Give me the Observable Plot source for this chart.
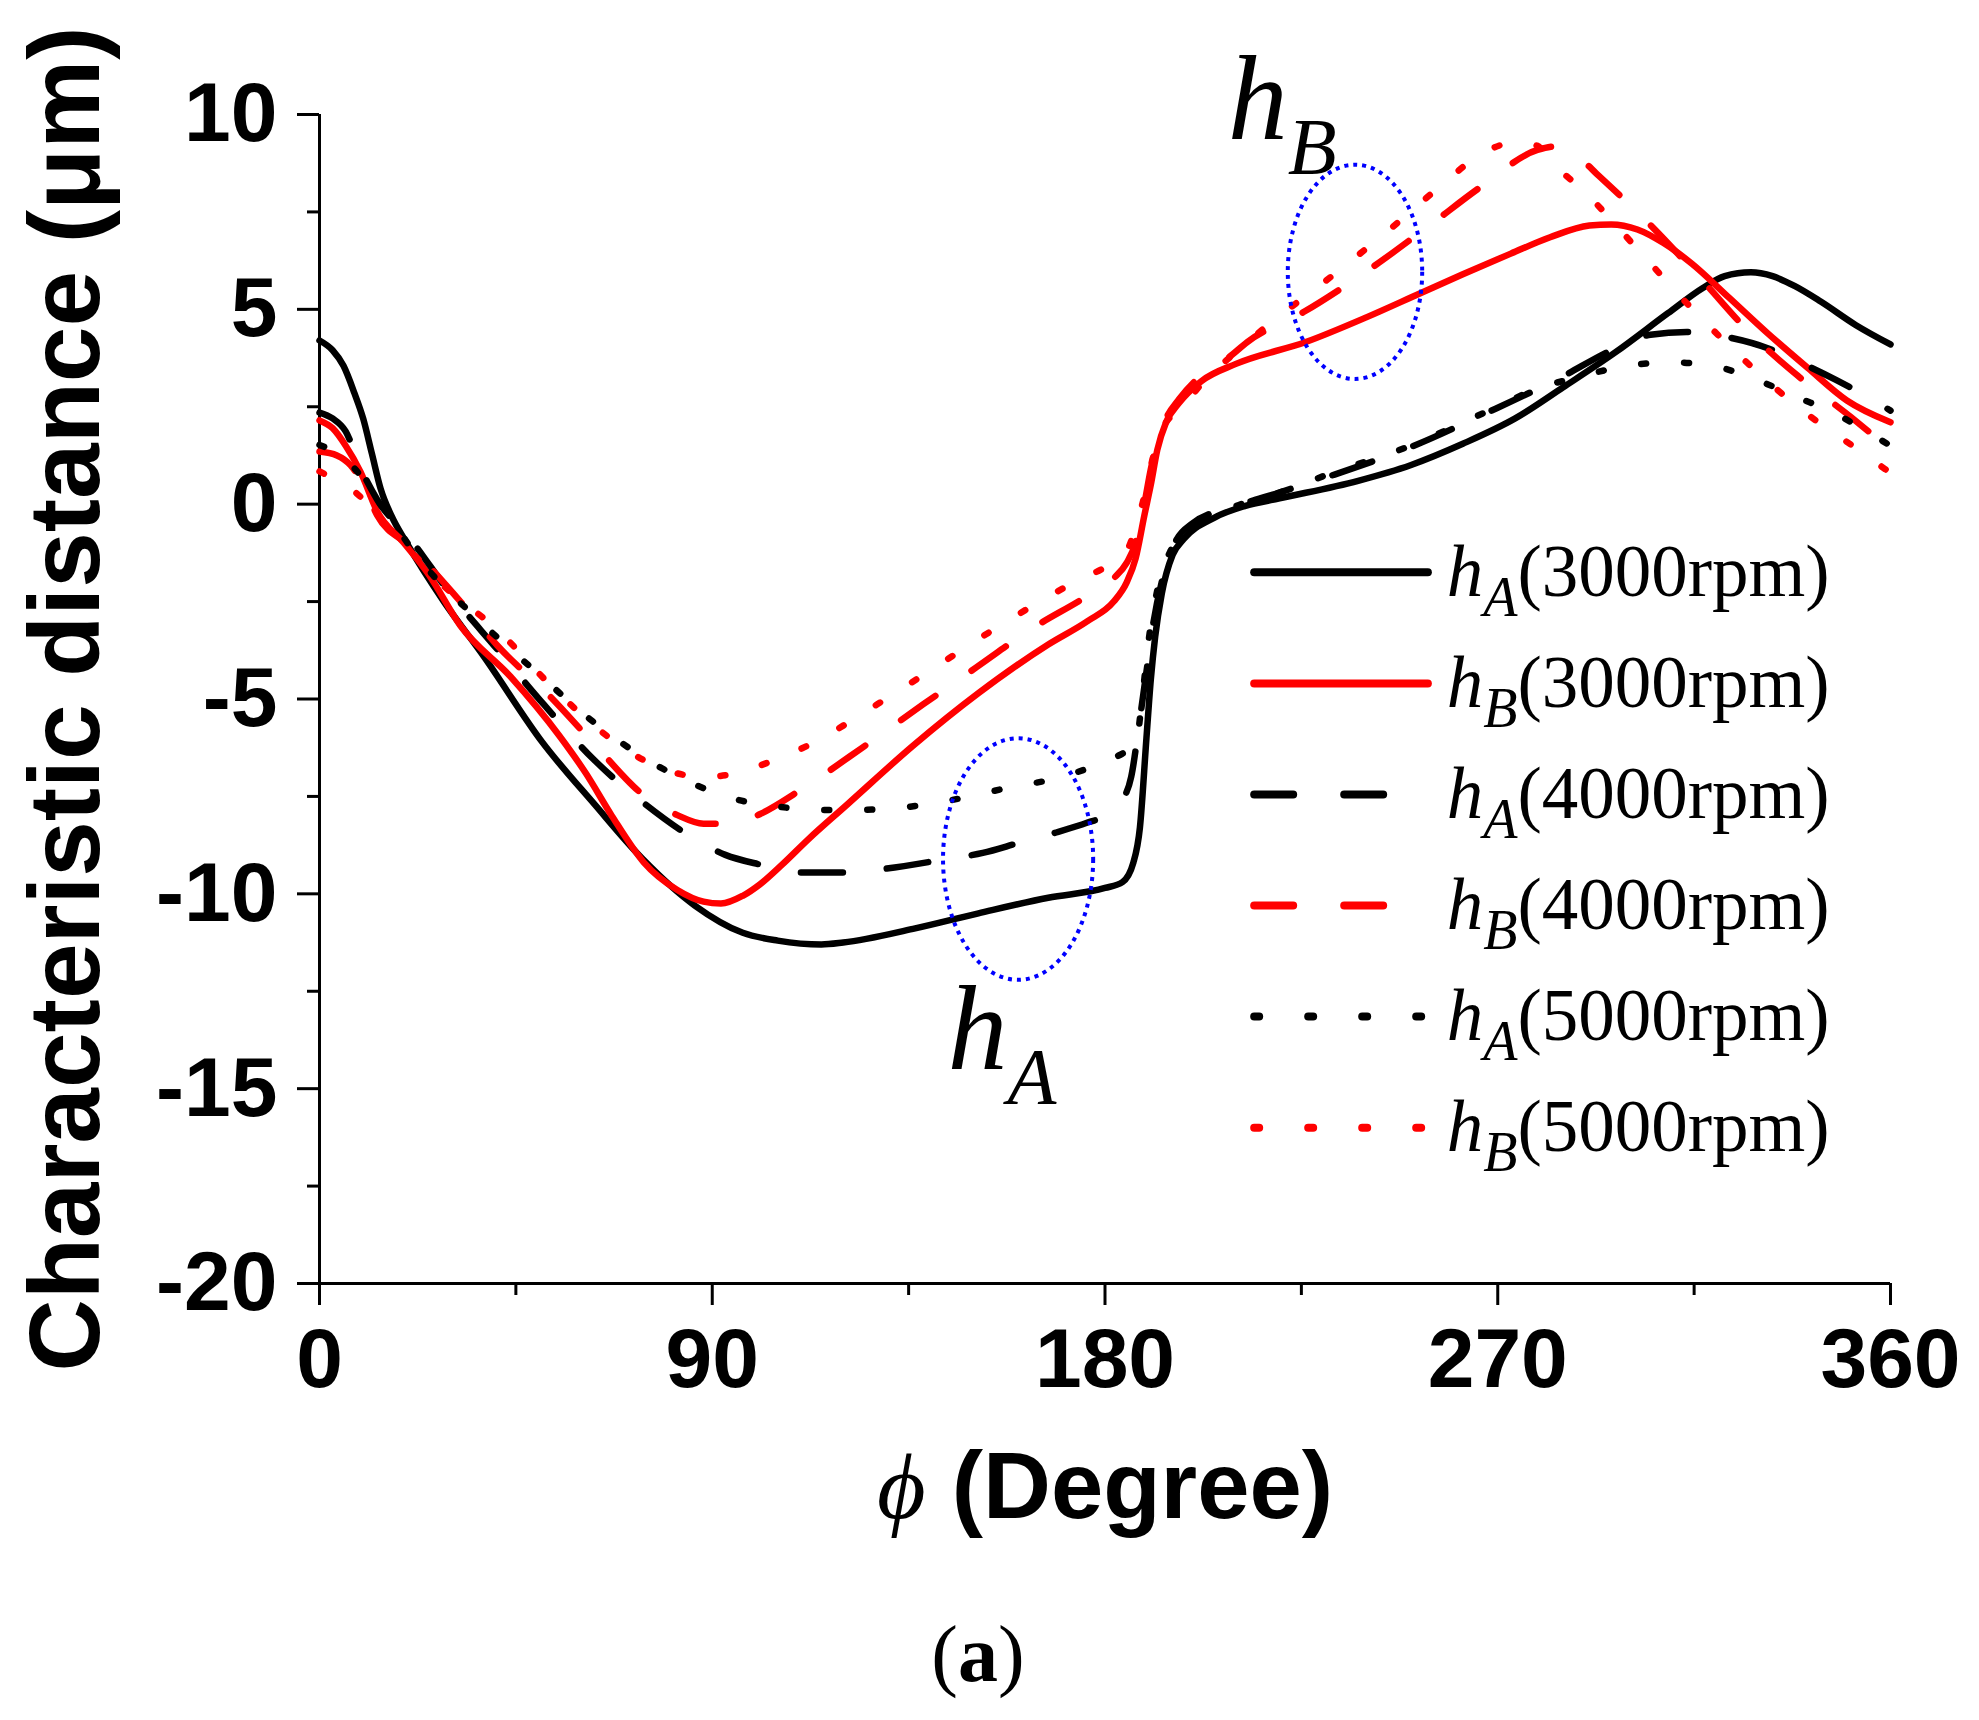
<!DOCTYPE html>
<html>
<head>
<meta charset="utf-8">
<script src="https://cdn.jsdelivr.net/npm/d3@7"></script>
<script src="https://cdn.jsdelivr.net/npm/@observablehq/plot@0.6"></script>
<style>
  body { margin: 0; background: #fff; }
</style>
</head>
<body>
<div id="chart"></div>
<script>
// [phi (deg), h (um)]
const hA3000 = [[0,4.2],[3,3.95],[5.5,3.55],[8,2.85],[10,2.2],[12,1.3],[14,0.4],[16.5,-0.3],[20,-1.0],
  [28.5,-2.5],[37.6,-3.9],[51,-6.1],[63,-7.7],[74,-9.1],[86,-10.3],[97,-11.0],[105,-11.2],[115,-11.3],
  [120,-11.25],[136,-10.9],[151,-10.5],[167,-10.1],[180,-9.85],[184,-9.7],[186.5,-9.2],[188,-8.3],
  [189.5,-6.0],[190.5,-4.5],[191.5,-3.4],[193,-2.3],[195.5,-1.3],[198,-0.9],[205,-0.35],[212,-0.05],
  [220,0.15],[238,0.6],[250,1.0],[262,1.55],[274,2.2],[285,3.0],[297,3.9],[309,4.9],[317,5.55],
  [322,5.85],[328,5.95],[333,5.85],[338,5.6],[344,5.2],[352,4.6],[360,4.1]];
const hB3000 = [[0,2.15],[3,1.95],[6,1.5],[9.4,0.83],[13.2,-0.18],[19.3,-0.99],[25,-1.8],[32.3,-3.12],
  [43.8,-4.43],[55,-5.95],[61,-6.9],[67,-8.0],[74.3,-9.19],[82,-9.9],[88,-10.2],[92,-10.25],[97,-10.05],
  [101,-9.75],[106,-9.25],[112,-8.6],[121,-7.7],[136,-6.2],[151,-4.85],[167,-3.6],[176,-3.0],
  [182,-2.5],[185,-2.0],[187,-1.4],[189,-0.3],[190.5,0.5],[192,1.4],[194,2.1],[197,2.6],[202,3.15],
  [210,3.6],[226,4.16],[240,4.8],[252,5.4],[262,5.9],[273,6.43],[282,6.85],[291,7.15],[296,7.18],
  [302,7.05],[308,6.7],[314.5,6.17],[323,5.3],[332,4.37],[341,3.5],[350,2.66],[360,2.1]];
const hA4000 = [[0,2.35],[3,2.2],[6,1.87],[9.4,0.93],[13.2,0.12],[20.8,-0.89],[30,-2.3],[40.7,-3.72],
  [51.4,-5.14],[62.9,-6.56],[74.3,-7.67],[85.8,-8.58],[93,-9.0],[101,-9.25],[110,-9.45],[120,-9.45],
  [130,-9.35],[143,-9.12],[152,-8.95],[160,-8.7],[168,-8.45],[176,-8.17],[181,-7.95],[184,-7.6],
  [186,-7.0],[188,-5.5],[189.5,-4.3],[191,-3.1],[193,-2.0],[196,-1.0],[200,-0.5],[210,-0.05],[220,0.3],
  [232.6,0.76],[250.8,1.5],[267.4,2.34],[283.9,3.22],[296.8,3.99],[305,4.35],[313.3,4.42],[322,4.3],
  [332.2,3.99],[340,3.6],[347.5,3.19],[354,2.8],[360,2.4]];
const hB4000 = [[0,1.35],[4,1.25],[7.1,1.0],[10,0.5],[13.2,-0.28],[20.8,-1.09],[32.3,-2.5],[40.7,-3.62],
  [52.9,-4.94],[62.9,-6.15],[74.3,-7.47],[82,-7.98],[88,-8.2],[94.9,-8.2],[101,-7.95],[110,-7.35],
  [124.5,-6.24],[138.3,-5.14],[150.5,-4.19],[163.3,-3.19],[176.3,-2.33],[182,-1.9],[185,-1.5],
  [187,-1.0],[189,0.0],[190.5,0.9],[192,1.6],[194,2.2],[197,2.7],[202,3.3],[208.4,3.77],[212.6,4.16],
  [225.5,4.93],[240,5.98],[254.1,7.13],[266.2,8.15],[279.1,9.09],[283.2,9.18],[288,8.95],[293.3,8.41],
  [305.1,7.15],[316.9,5.74],[328,4.37],[338.7,3.3],[351,2.23],[360,1.4]];
const hA5000 = [[0,1.52],[4,1.3],[7.9,0.93],[13.2,0.12],[23.9,-1.55],[36.9,-3.02],[49.9,-4.33],
  [62.9,-5.6],[77.4,-6.71],[86.5,-7.22],[95.3,-7.57],[105.6,-7.77],[117.6,-7.85],[129,-7.83],
  [137.5,-7.73],[148.2,-7.52],[158.5,-7.26],[168,-7.06],[178,-6.7],[184,-6.4],[187,-6.2],[188.5,-5.0],
  [190,-3.5],[192,-2.2],[195,-1.2],[200,-0.6],[210,-0.05],[220,0.3],[232,0.8],[250,1.5],[267,2.35],
  [280,3.0],[288.5,3.26],[298,3.52],[309.8,3.64],[320.4,3.52],[329.8,3.17],[338.7,2.74],[347.5,2.32],
  [354,1.9],[360,1.5]];
const hB5000 = [[0,0.84],[4,0.6],[8.6,0.27],[13.9,-0.38],[20.8,-1.19],[28.5,-2.1],[40.7,-3.22],
  [52.9,-4.64],[65.9,-5.95],[74,-6.55],[82,-6.91],[88,-7.0],[93.4,-6.95],[103.3,-6.61],[111.8,-6.2],
  [127.9,-5.13],[141.7,-4.14],[157,-3.04],[173,-2.0],[181.4,-1.52],[185,-1.2],[187,-0.6],[189,0.2],
  [191,1.2],[193,1.9],[197.8,2.5],[203,3.2],[210,3.9],[216.7,4.54],[230.7,5.74],[244.9,7.02],
  [257.9,8.26],[265,8.9],[274.4,9.29],[279,9.2],[282.7,8.73],[289.2,8.09],[301.6,6.6],[312.7,5.23],
  [325.7,3.78],[339.3,2.45],[352.8,1.38],[360,0.8]];

const seriesData = [hA3000, hB3000, hA4000, hB4000, hA5000, hB5000];
const seriesLabels = ["h|A|(3000rpm)", "h|B|(3000rpm)", "h|A|(4000rpm)", "h|B|(4000rpm)", "h|A|(5000rpm)", "h|B|(5000rpm)"];
const seriesStroke = ["#000", "#ff0000", "#000", "#ff0000", "#000", "#ff0000"];
const seriesDash = [undefined, undefined, "42,44", "42,44", "5,38", "5,38"];
const legendDash = [undefined, undefined, "39,51", "39,51", "5,49", "5,49"];

const xTicks = [0, 90, 180, 270, 360];
const xMinorTicks = [45, 135, 225, 315];
const yTicks = [-20, -15, -10, -5, 0, 5, 10];
const yMinorTicks = [-17.5, -12.5, -7.5, -2.5, 2.5, 7.5];

// callouts: label, position of the "h", and the dotted ellipses around the curves
const notes = [{label: "h|B", phi: 208.1, h: 9.38}, {label: "h|A", phi: 143.9, h: -14.5}];
const ellipses = [{phi: 237.4, h: 5.95, rphi: 15.4, rh: 2.75}, {phi: 160.2, h: -9.12, rphi: 17.2, rh: 3.1}];

const legendPos = {x1: 214.3, x2: 254.1, textX: 258.3, y0: -1.75, step: 2.85};
const legendRows = seriesLabels.map((label, i) => ({label, y: legendPos.y0 - i * legendPos.step}));

const sans = "'Liberation Sans', Arial, sans-serif";
const serif = "'Liberation Serif', 'Times New Roman', serif";

let chart = Plot.plot({
  width: 1979,
  height: 1720,
  marginTop: 114,
  marginRight: 89,
  marginBottom: 437,
  marginLeft: 319,
  style: {fontFamily: sans, fontSize: "84px", fontWeight: "bold", background: "white", overflow: "visible"},
  x: {domain: [0, 360]},
  y: {domain: [-20, 10]},
  marks: [
    Plot.axisX({ticks: xTicks, tickSize: 22, tickPadding: 22, strokeWidth: 3, tickFormat: d => String(d), label: null}),
    Plot.axisX({ticks: xMinorTicks, tickSize: 12, strokeWidth: 3, tickFormat: () => "", label: null}),
    Plot.axisY({ticks: yTicks, tickSize: 22, tickPadding: 20, strokeWidth: 3, tickFormat: d => String(d), label: null}),
    Plot.axisY({ticks: yMinorTicks, tickSize: 12, strokeWidth: 3, tickFormat: () => "", label: null}),
    Plot.ruleX([0], {y1: -20, y2: 10, strokeWidth: 3}),
    Plot.ruleY([-20], {x1: 0, x2: 360, strokeWidth: 3}),
    ...seriesData.map((pts, i) => Plot.line(pts, {
      x: d => d[0], y: d => d[1], stroke: seriesStroke[i], strokeWidth: 6.5,
      strokeDasharray: seriesDash[i], strokeLinecap: "round", curve: "monotone-x"
    })),
    ...legendRows.map((r, i) => Plot.ruleY([r.y], {
      x1: legendPos.x1, x2: legendPos.x2, stroke: seriesStroke[i], strokeWidth: 8,
      strokeDasharray: legendDash[i], strokeLinecap: "round"
    })),
    Plot.text(legendRows, {x: legendPos.textX, y: "y", text: "label", textAnchor: "start", lineAnchor: "middle",
      fontFamily: serif, fontWeight: "normal", fontSize: 73}),
    Plot.text(notes, {x: "phi", y: "h", text: "label", textAnchor: "start", lineAnchor: "bottom",
      fontFamily: serif, fontWeight: "normal", fontSize: 120}),
    Plot.text(["Characteristic distance (μm)"], {frameAnchor: "left", dx: -253, rotate: -90,
      textAnchor: "middle", lineAnchor: "middle", fontSize: 100, fontWeight: "bold"}),
    Plot.text(["ϕ|(Degree)"], {frameAnchor: "bottom", dy: 234, textAnchor: "middle", lineAnchor: "bottom",
      fontSize: 94, fontWeight: "bold"}),
    Plot.text(["(|a|)"], {frameAnchor: "bottom", dx: -127, dy: 397, textAnchor: "middle", lineAnchor: "bottom",
      fontFamily: serif, fontWeight: "normal", fontSize: 80})
  ]
})

// split the "|"-marked labels into styled pieces
d3.select(chart).selectAll("text").each(function() {
  const s = this.textContent
  if (!s.includes("|")) return
  const parts = s.split("|")
  const t = d3.select(this).text(null)
  if (s.startsWith("ϕ")) {
    t.append("tspan").attr("font-family", serif).attr("font-style", "italic").attr("font-weight", "normal").text(parts[0])
    t.append("tspan").text(" " + parts[1])
  } else if (s.startsWith("(")) {
    t.append("tspan").attr("font-weight", "normal").text(parts[0])
    t.append("tspan").attr("font-weight", "bold").text(parts[1])
    t.append("tspan").attr("font-weight", "normal").text(parts[2])
  } else {
    // italic h with a subscript letter
    const big = parts.length === 2
    const subSize = big ? 80 : 56, shift = big ? 35 : 20
    t.append("tspan").attr("font-style", "italic").text(parts[0])
    t.append("tspan").attr("font-style", "italic").attr("font-size", subSize).attr("dy", shift).text(parts[1])
    if (parts[2]) t.append("tspan").attr("dy", -shift).text(parts[2])
  }
})

// dotted blue ellipses, placed through the plot's own scales
const sx = chart.scale("x"), sy = chart.scale("y")
d3.select(chart).append("g").selectAll("ellipse").data(ellipses).join("ellipse")
  .attr("cx", d => sx.apply(d.phi))
  .attr("cy", d => sy.apply(d.h))
  .attr("rx", d => Math.abs(sx.apply(d.phi + d.rphi) - sx.apply(d.phi)))
  .attr("ry", d => Math.abs(sy.apply(d.h + d.rh) - sy.apply(d.h)))
  .attr("fill", "none")
  .attr("stroke", "#0000ff")
  .attr("stroke-width", 4)
  .attr("stroke-dasharray", "4,5")

d3.select('#chart').append(() => chart)
</script>
</body>
</html>
